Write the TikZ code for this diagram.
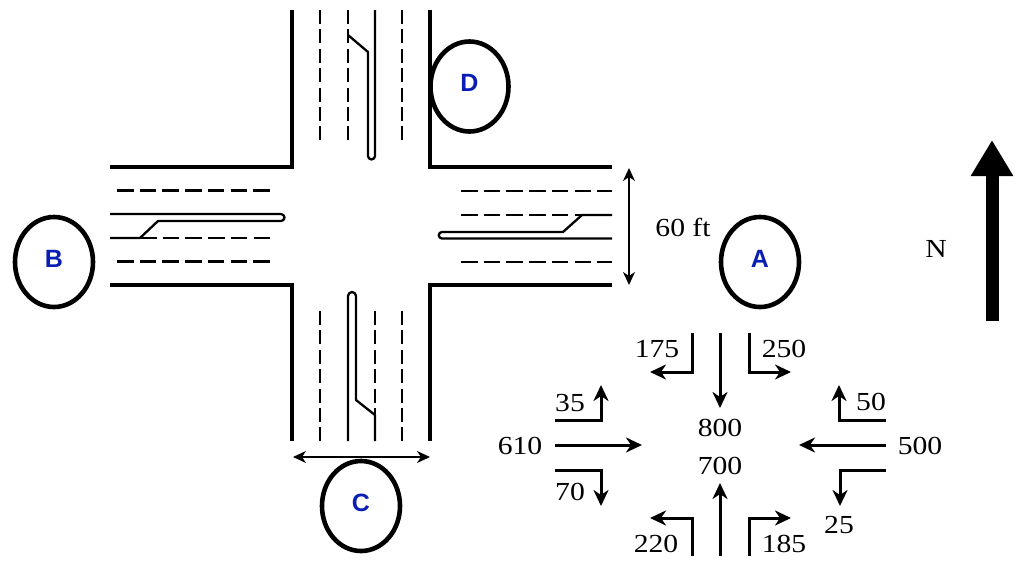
\documentclass[tikz,border=0pt]{standalone}
\usepackage{fontspec}
\setmainfont[FakeStretch=1.14]{Liberation Serif}
\newfontfamily\lblfont{Liberation Sans}
\usetikzlibrary{arrows.meta,shapes.geometric}
\definecolor{lblblue}{RGB}{10,30,180}
\newcommand{\locname}[1]{\raisebox{6.5pt}{#1}}
\tikzset{
 x=1pt,y=-1pt,
 wall/.style={line width=3.5pt,line join=miter},
 thin road/.style={line width=2.3pt,line join=round},
 hdash/.style={line width=2.3pt,dash pattern=on 16.5pt off 6.2pt},
 vdash/.style={line width=2.3pt,dash pattern=on 14pt off 5.4pt},
 flow/.style={line width=3pt,line join=miter,-{Stealth[length=16pt,width=15pt,inset=5pt]}},
 dim/.style={line width=1.6pt,{Stealth[length=13pt,width=12pt,inset=4pt]}-{Stealth[length=13pt,width=12pt,inset=4pt]}},
 loc/.style={ellipse,draw,line width=4.6pt,outer sep=0pt,minimum width=78pt,minimum height=90pt,inner sep=0pt,text=lblblue,font=\lblfont\bfseries\fontsize{25}{25}\selectfont},
 num/.style={inner sep=0pt,font=\fontsize{26}{26}\selectfont},
}
\begin{document}
\begin{tikzpicture}
\useasboundingbox (0,0) rectangle (1019,563);
% road edges
\draw[wall] (292,10) -- (292,167) -- (110,167);
\draw[wall] (430,10) -- (430,167) -- (612,167);
\draw[wall] (110,285) -- (292,285) -- (292,441);
\draw[wall] (612,285) -- (430,285) -- (430,441);
% west leg
\draw[hdash] (117,190.5) -- (272,190.5);
\draw[hdash] (117,261.5) -- (272,261.5);
\draw[hdash] (140,238) -- (272,238);
\draw[thin road] (110,214) -- (281,214) arc[start angle=90,end angle=-90,radius=3.5pt] -- (158,221) -- (140,238) -- (110,238);
% east leg
\draw[hdash] (461,191) -- (612,191);
\draw[hdash] (461,262) -- (612,262);
\draw[hdash] (461,215) -- (582,215);
\draw[thin road] (612,215) -- (582,215) -- (563,232) -- (442,232) arc[start angle=90,end angle=270,radius=3.25pt] -- (612,238.5);
% north leg
\draw[vdash] (320,10) -- (320,142);
\draw[vdash] (348,10) -- (348,142);
\draw[vdash] (402,10) -- (402,142);
\draw[thin road] (348,35) -- (368,52) -- (368,156) arc[start angle=180,end angle=360,radius=3.5pt] -- (375,10);
% south leg
\draw[vdash] (320,311) -- (320,441);
\draw[vdash] (375,311) -- (375,415);
\draw[vdash] (402,311) -- (402,441);
\draw[thin road] (348,441) -- (348,296) arc[start angle=180,end angle=0,radius=4pt] -- (356,400) -- (375,415) -- (375,441);
% dimensions
\draw[dim] (629,168) -- (629,285);
\draw[dim] (293,457) -- (430,457);
\node[num] (ft) at (683,227) {60 ft};
% locations
\node[loc] (A) at (760,262) {\locname{A}};
\node[loc] (B) at (54,262) {\locname{B}};
\node[loc] (C) at (361,506) {\locname{C}};
\node[loc] (D) at (469.5,86.5) {\locname{D}};
% north arrow
\draw[line width=13pt,-{Triangle[length=36pt,width=40pt]}] (992,321) -- (992,140);
\node[num] (north) at (936,249) {N};
% flows
\draw[flow] (692,333) -- (692,372) -- (650,372);
\draw[flow] (720,333) -- (720,408);
\draw[flow] (749,333) -- (749,372) -- (791,372);
\draw[flow] (555,420) -- (601,420) -- (601,385);
\draw[flow] (555,445) -- (642,445);
\draw[flow] (555,470) -- (601,470) -- (601,506);
\draw[flow] (886,420) -- (839,420) -- (839,385);
\draw[flow] (886,445) -- (799,445);
\draw[flow] (886,470) -- (840,470) -- (840,506);
\draw[flow] (692,556) -- (692,518) -- (650,518);
\draw[flow] (720,556) -- (720,483);
\draw[flow] (749,556) -- (749,518) -- (791,518);
% volumes
\node[num] (n175) at (657,349) {175};
\node[num] (n250) at (784,349) {250};
\node[num] (n35) at (570,403) {35};
\node[num] (n610) at (520,446) {610};
\node[num] (n70) at (570,492) {70};
\node[num] (n800) at (720,428) {800};
\node[num] (n700) at (720,466) {700};
\node[num] (n50) at (871,402) {50};
\node[num] (n500) at (920,446) {500};
\node[num] (n25) at (839,525) {25};
\node[num] (n220) at (656,544) {220};
\node[num] (n185) at (784,544) {185};
\end{tikzpicture}
\end{document}
